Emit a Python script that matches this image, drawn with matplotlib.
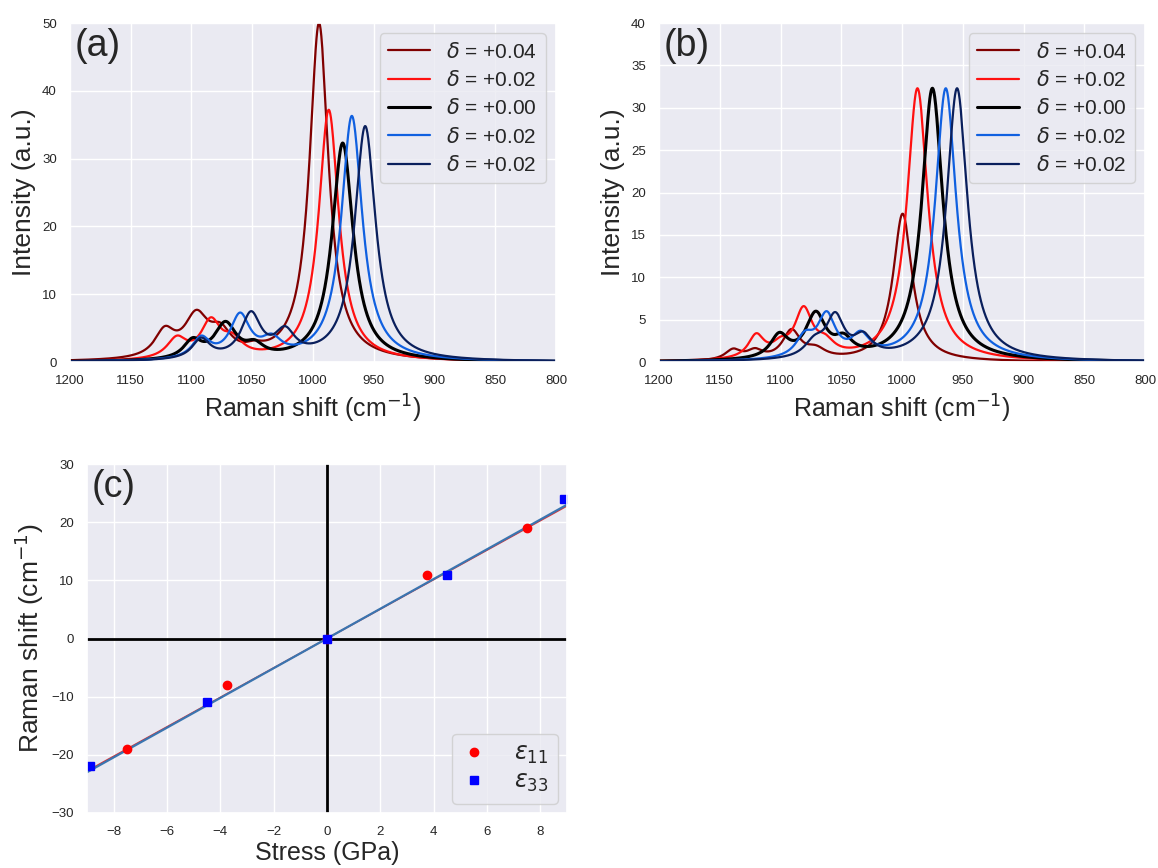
import numpy as np
import matplotlib
matplotlib.use('Agg')
import matplotlib.pyplot as plt
import seaborn as sns

# legend labels / colours of the five spectra
labels = [r'$\delta$ = +0.04', r'$\delta$ = +0.02', r'$\delta$ = +0.00',
          r'$\delta$ = +0.02', r'$\delta$ = +0.02']
colors = ['#800000', '#ff1010', '#000000', '#1060e0', '#0a1f5c']
lws = [1.6, 1.6, 2.2, 1.6, 1.6]

# panel (a): peak positions (cm-1), heights (a.u.), half widths
a_pos = [[1122, 1096, 1076, 1048, 995.0],
         [1112, 1084, 1066, 987.0],
         [1099, 1072, 1048, 975.5],
         [1092, 1060, 1034, 968.0],
         [1092, 1051, 1023, 957.0]]
a_height = [[5.3, 7.7, 5.8, 3.2, 50.0],
            [3.9, 6.6, 4.3, 37.2],
            [3.6, 6.0, 3.3, 32.3],
            [3.9, 7.3, 4.2, 36.3],
            [3.6, 7.5, 5.3, 34.8]]
a_width = [[10, 12, 11, 9, 9.5],
           [10, 10, 10, 10],
           [9, 11, 9, 10.5],
           [9, 10, 10, 10.5],
           [9, 10, 10, 10.5]]

# panel (b)
b_pos = [[1139, 1121, 1091, 1071, 999.5],
         [1120, 1100, 1081, 1063, 987.3],
         [1101, 1071, 1048, 975.0],
         [1080, 1062, 1034, 964.0],
         [1072, 1055, 1032, 954.7]]
b_height = [[1.6, 1.65, 3.9, 2.0, 17.5],
            [3.4, 3.0, 6.6, 3.3, 32.3],
            [3.5, 6.0, 3.4, 32.3],
            [3.7, 6.0, 3.7, 32.3],
            [3.2, 5.9, 3.6, 32.3]]
b_width = [[8, 8, 9, 10, 9.5],
           [8, 8, 9, 9, 10.5],
           [9, 10, 9, 10.5],
           [9, 9, 9, 10.5],
           [10, 9, 9, 10.5]]

# panel (c): stress (GPa) vs Raman shift (cm-1)
e11_stress = [-7.5, -3.75, 0.0, 3.75, 7.5]
e11_shift = [-19, -8, 0, 11, 19]
e33_stress = [-8.9, -4.5, 0.0, 4.5, 8.9]
e33_shift = [-22, -11, 0, 11, 24]


def lor(x, c, w):
    return 1.0 / (1.0 + ((x - c) / w) ** 2)


def spectrum(x, pos, height, width):
    # amplitudes chosen so that the curve passes through the read peak heights
    M = np.array([[lor(p, c, w) for c, w in zip(pos, width)] for p in pos])
    amp = np.linalg.solve(M, np.array(height))
    return sum(A * lor(x, c, w) for A, c, w in zip(amp, pos, width))


def slope0(xv, yv):
    # least squares line through the origin
    xv, yv = np.array(xv), np.array(yv)
    return (xv * yv).sum() / (xv * xv).sum()


sns.set_theme(style='darkgrid')
plt.rcParams['font.family'] = ['Liberation Sans', 'DejaVu Sans']

fig = plt.figure(figsize=(11.58, 8.68), dpi=100)
ax1 = fig.add_axes([0.0604, 0.5829, 0.4197, 0.3906])
ax2 = fig.add_axes([0.5691, 0.5829, 0.4197, 0.3906])
ax3 = fig.add_axes([0.0751, 0.0634, 0.4145, 0.4020])

x = np.linspace(800, 1200, 4001)

for ax, P, H, W, ymax, ystep, tag in [(ax1, a_pos, a_height, a_width, 50, 10, '(a)'),
                                      (ax2, b_pos, b_height, b_width, 40, 5, '(b)')]:
    for i in range(5):
        ax.plot(x, spectrum(x, P[i], H[i], W[i]), color=colors[i], lw=lws[i], label=labels[i])
    ax.set_xlim(1200, 800)
    ax.set_ylim(0, ymax)
    ax.set_xticks(np.arange(800, 1201, 50))
    ax.set_yticks(np.arange(0, ymax + 1, ystep))
    ax.tick_params(labelsize=9.5)
    ax.set_xlabel('Raman shift (cm$^{-1}$)', fontsize=18)
    ax.set_ylabel('Intensity (a.u.)', fontsize=19)
    ax.text(0.01, 0.985, tag, transform=ax.transAxes, fontsize=27, va='top', ha='left')
    ax.legend(loc='upper right', fontsize=15, handlelength=2.0, labelspacing=0.4,
              borderaxespad=0.5)

# panel (c)
ax3.axhline(0, color='black', lw=2)
ax3.axvline(0, color='black', lw=2)
xs = np.array([-9.0, 9.0])
ax3.plot(xs, slope0(e11_stress, e11_shift) * xs, color='#e03030', lw=1.2)
ax3.plot(xs, slope0(e33_stress, e33_shift) * xs, color='#3a75b0', lw=1.6)
ax3.plot(e11_stress, e11_shift, 'o', color='red', ms=6, label=r'$\epsilon_{11}$')
ax3.plot(e33_stress, e33_shift, 's', color='blue', ms=6, label=r'$\epsilon_{33}$')
ax3.set_xlim(-9, 9)
ax3.set_ylim(-30, 30)
ax3.set_xticks(np.arange(-8, 9, 2))
ax3.set_yticks(np.arange(-30, 31, 10))
ax3.tick_params(labelsize=9.5)
ax3.set_xlabel('Stress (GPa)', fontsize=18, labelpad=2)
ax3.set_ylabel('Raman shift (cm$^{-1}$)', fontsize=19)
ax3.text(0.01, 0.985, '(c)', transform=ax3.transAxes, fontsize=27, va='top', ha='left')
ax3.legend(loc='lower right', fontsize=17, handlelength=1.0, labelspacing=0.2,
           borderaxespad=0.4, handletextpad=1.2)

fig.savefig('out.png', dpi=100)
